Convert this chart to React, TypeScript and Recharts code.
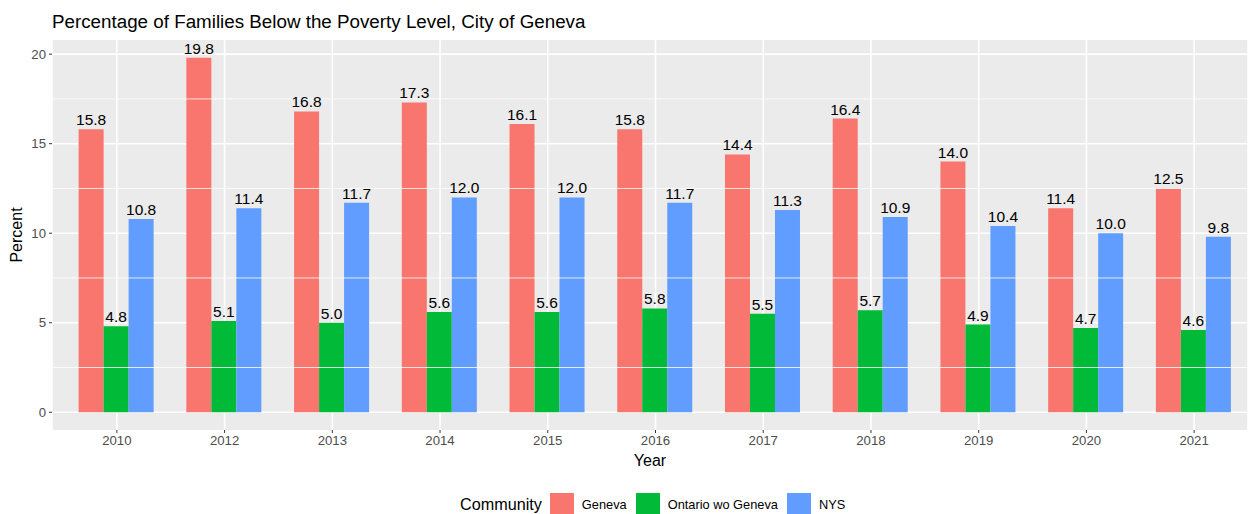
import React from 'react';
import { BarChart, Bar, XAxis, YAxis, CartesianGrid, ReferenceLine, LabelList } from 'recharts';

const years = ['2010', '2012', '2013', '2014', '2015', '2016', '2017', '2018', '2019', '2020', '2021'];
const geneva = [15.8, 19.8, 16.8, 17.3, 16.1, 15.8, 14.4, 16.4, 14.0, 11.4, 12.5];
const ontario = [4.8, 5.1, 5.0, 5.6, 5.6, 5.8, 5.5, 5.7, 4.9, 4.7, 4.6];
const nys = [10.8, 11.4, 11.7, 12.0, 12.0, 11.7, 11.3, 10.9, 10.4, 10.0, 9.8];
const yTicks = [0, 5, 10, 15, 20];
const minorTicks = [2.5, 7.5, 12.5, 17.5];

const series = [
  { key: 'geneva', name: 'Geneva', color: '#F8766D' },
  { key: 'ontario', name: 'Ontario wo Geneva', color: '#00BA38' },
  { key: 'nys', name: 'NYS', color: '#619CFF' },
];

const data = years.map((year, i) => ({
  year,
  geneva: geneva[i],
  ontario: ontario[i],
  nys: nys[i],
}));

const font = '"Liberation Sans", Arial, Helvetica, sans-serif';

export default function App() {
  return (
    <div style={{ position: 'absolute', left: 0, top: 0, width: 1248, height: 514, fontFamily: font, background: '#fff' }}>
      <div style={{ position: 'absolute', left: 52, top: 12, fontSize: 18.8, lineHeight: '20px', color: '#000', whiteSpace: 'nowrap' }}>
        Percentage of Families Below the Poverty Level, City of Geneva
      </div>
      <BarChart
        width={1248}
        height={514}
        data={data}
        margin={{ top: 40, right: 0, bottom: 44, left: 0 }}
        barCategoryGap="14.5%"
        barGap={0}
      >
        <CartesianGrid fill="#EBEBEB" stroke="#FFFFFF" strokeWidth={1.6} horizontalValues={yTicks} />
        {minorTicks.map((v) => (
          <ReferenceLine key={v} y={v} stroke="#FFFFFF" strokeWidth={0.8} />
        ))}
        <XAxis
          dataKey="year"
          padding={{ left: 11, right: 0 }}
          height={40}
          tickSize={3}
          tickMargin={3}
          axisLine={false}
          tickLine={{ stroke: '#333333' }}
          tick={{ fill: '#4D4D4D', fontSize: 13.2, fontFamily: font }}
          label={{
            content: ({ viewBox }: any) => (
              <text x={viewBox.x + viewBox.width / 2} y={466} textAnchor="middle" fontSize={16} fill="#000" fontFamily={font}>
                Year
              </text>
            ),
          }}
        />
        <YAxis
          type="number"
          domain={[-0.99, 20.79]}
          allowDataOverflow
          ticks={yTicks}
          width={52}
          tickSize={3}
          tickMargin={3}
          axisLine={false}
          tickLine={{ stroke: '#333333' }}
          tick={{ fill: '#4D4D4D', fontSize: 13.2, fontFamily: font }}
          label={{
            content: ({ viewBox }: any) => (
              <text
                x={22}
                y={viewBox.y + viewBox.height / 2}
                transform={`rotate(-90, 22, ${viewBox.y + viewBox.height / 2})`}
                textAnchor="middle"
                fontSize={16}
                fill="#000"
                fontFamily={font}
              >
                Percent
              </text>
            ),
          }}
        />
        {series.map((s) => (
          <Bar key={s.key} dataKey={s.key} name={s.name} fill={s.color} isAnimationActive={false}>
            <LabelList
              dataKey={s.key}
              position="top"
              offset={4}
              formatter={(v: any) => Number(v).toFixed(1)}
              style={{ fill: '#000', fontSize: 15.5, fontFamily: font }}
            />
          </Bar>
        ))}
      </BarChart>
      <div
        style={{
          position: 'absolute',
          left: 460,
          top: 493,
          height: 22,
          display: 'flex',
          alignItems: 'center',
          whiteSpace: 'nowrap',
        }}
      >
        <span style={{ fontSize: 16.2, color: '#000', marginRight: 8 }}>Community</span>
        {series.map((s) => (
          <span key={s.key} style={{ display: 'flex', alignItems: 'center', marginRight: 9 }}>
            <span style={{ width: 24, height: 22, background: s.color, display: 'inline-block', marginRight: 8 }} />
            <span style={{ fontSize: 12.8, color: '#000' }}>{s.name}</span>
          </span>
        ))}
      </div>
    </div>
  );
}
